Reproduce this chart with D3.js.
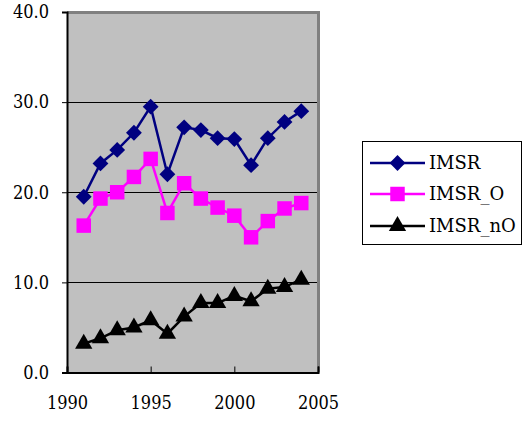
<!DOCTYPE html>
<html>
<head>
<meta charset="utf-8">
<script src="https://cdn.jsdelivr.net/npm/d3@7"></script>
<style>
  html, body { margin: 0; padding: 0; background: #ffffff; }
  svg { display: block; }
</style>
</head>
<body>
<svg id="chart" width="526" height="423"></svg>
<script>
// Data
const years = [1991, 1992, 1993, 1994, 1995, 1996, 1997, 1998, 1999, 2000, 2001, 2002, 2003, 2004];
const imsr   = [19.5, 23.2, 24.7, 26.6, 29.5, 22.0, 27.2, 26.9, 26.0, 25.9, 23.0, 26.0, 27.8, 29.0];
const imsrO  = [16.3, 19.3, 20.0, 21.7, 23.7, 17.7, 21.0, 19.3, 18.3, 17.4, 15.0, 16.8, 18.2, 18.8];
const imsrNO = [3.2, 3.8, 4.7, 5.0, 5.8, 4.3, 6.2, 7.7, 7.7, 8.5, 7.9, 9.3, 9.5, 10.3];
const xTicks = [1990, 1995, 2000, 2005];
const yTicks = [0, 10, 20, 30, 40];
const seriesNames = ["IMSR", "IMSR_O", "IMSR_nO"];
const seriesColors = ["#000080", "#FF00FF", "#000000"];
const seriesValues = [imsr, imsrO, imsrNO];

const svg = d3.select("#chart");
const font = "'DejaVu Serif', 'Liberation Serif', 'Times New Roman', serif";
const tickFont = "'DejaVu Serif Condensed', 'DejaVu Serif', serif";

const plot = { left: 67, top: 12, right: 318, bottom: 372.5 };

const x = d3.scaleLinear().domain([1990, 2005]).range([plot.left, plot.right]);
const y = d3.scaleLinear().domain([0, 40]).range([plot.bottom, plot.top]);

// Marker shapes: diamond as a square turned 45°, square, triangle
const markers = [
  { sym: d3.symbol().type(d3.symbolSquare).size(125), rot: 45 },
  { sym: d3.symbol().type(d3.symbolSquare).size(210), rot: 0 },
  { sym: d3.symbol().type(d3.symbolTriangle).size(130), rot: 0 }
];

// Plot background
svg.append("rect")
  .attr("x", plot.left).attr("y", plot.top)
  .attr("width", plot.right - plot.left).attr("height", plot.bottom - plot.top)
  .attr("fill", "#C0C0C0");

// Horizontal gridlines
svg.append("g").selectAll("line")
  .data(yTicks.filter(t => t > 0 && t < 40))
  .join("line")
  .attr("x1", plot.left).attr("x2", plot.right)
  .attr("y1", d => Math.round(y(d)) + 0.5).attr("y2", d => Math.round(y(d)) + 0.5)
  .attr("stroke", "#000").attr("stroke-width", 1);

// Frame: top and right in gray
svg.append("path")
  .attr("d", `M${plot.left},${plot.top + 0.5}H${plot.right + 0.5}V${plot.bottom}`)
  .attr("fill", "none").attr("stroke", "#808080").attr("stroke-width", 3);

// Y axis
const yAxis = d3.axisLeft(y).tickValues(yTicks).tickSize(5).tickPadding(13)
  .tickFormat(d3.format(".1f"));
const gy = svg.append("g").attr("transform", `translate(${plot.left},0)`).call(yAxis);
gy.attr("font-family", tickFont).attr("font-size", 18);
gy.select(".domain").attr("stroke", "#000").attr("stroke-width", 2);
gy.selectAll(".tick line").attr("stroke", "#000");
gy.selectAll(".tick text").attr("fill", "#000");

// X axis
const xAxis = d3.axisBottom(x).tickValues(xTicks).tickSize(-6).tickPadding(24)
  .tickFormat(d3.format("d"));
const gx = svg.append("g").attr("transform", `translate(0,${plot.bottom})`).call(xAxis);
gx.attr("font-family", tickFont).attr("font-size", 18);
gx.select(".domain").attr("stroke", "#000").attr("stroke-width", 2);
gx.selectAll(".tick line").attr("stroke", "#000");
gx.selectAll(".tick text").attr("fill", "#000");

// Series lines and markers
const line = d3.line().x((d, i) => x(years[i])).y(d => y(d));

seriesValues.forEach((vals, s) => {
  const g = svg.append("g");
  g.append("path")
    .datum(vals)
    .attr("d", line)
    .attr("fill", "none")
    .attr("stroke", seriesColors[s])
    .attr("stroke-width", 2.5);
  g.selectAll("path.marker")
    .data(vals)
    .join("path")
    .attr("class", "marker")
    .attr("d", markers[s].sym)
    .attr("transform", (d, i) => `translate(${x(years[i])},${y(d)}) rotate(${markers[s].rot})`)
    .attr("fill", seriesColors[s]);
});

// Legend
const legend = svg.append("g").attr("font-family", font).attr("font-size", 18);
legend.append("rect")
  .attr("x", 362.5).attr("y", 141.5).attr("width", 159).attr("height", 103)
  .attr("fill", "#fff").attr("stroke", "#000").attr("stroke-width", 1);
const legendY = [163, 194, 226];
seriesNames.forEach((name, s) => {
  legend.append("line")
    .attr("x1", 370).attr("x2", 425)
    .attr("y1", legendY[s]).attr("y2", legendY[s])
    .attr("stroke", seriesColors[s]).attr("stroke-width", 2.5);
  legend.append("path")
    .attr("d", markers[s].sym())
    .attr("transform", `translate(397.5,${legendY[s]}) rotate(${markers[s].rot})`)
    .attr("fill", seriesColors[s]);
  legend.append("text")
    .attr("x", 429).attr("y", legendY[s] + 6)
    .attr("fill", "#000")
    .text(name);
});
</script>
</body>
</html>
